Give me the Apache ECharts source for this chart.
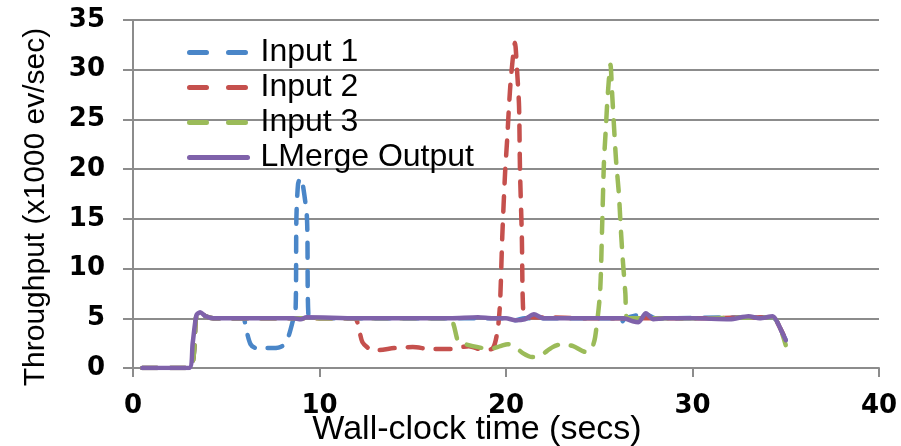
<!DOCTYPE html>
<html>
<head>
<meta charset="utf-8">
<script src="https://cdn.jsdelivr.net/npm/echarts@6/dist/echarts.min.js"></script>
<style>
  html, body { margin: 0; padding: 0; background: #fff; }
  #chart { width: 901px; height: 446px; }
</style>
</head>
<body>
<div id="chart"></div>
<script>
// values (x = secs, y = x1000 ev/sec)
const input1X = [0.5, 3.0, 3.4, 3.6, 3.9, 4.3, 5.9, 6.05, 6.3, 6.6, 7.5, 8.0, 8.3, 8.55, 8.72, 8.76, 8.85, 8.97, 9.1, 9.33, 9.4, 9.6, 12, 16, 20.0, 20.5, 21.0, 25.8, 26.1, 26.4, 27.5, 28.0, 33.0, 34.3, 34.7, 35.0];
const input1Y = [0, 0, 5.3, 5.6, 5.2, 5.0, 5.0, 4.0, 2.4, 2.0, 2.0, 2.2, 3.0, 4.6, 6.0, 15, 18.5, 19.1, 18.5, 15, 5.5, 5.0, 5.0, 5.0, 5.0, 4.8, 5.0, 5.0, 4.4, 5.0, 5.4, 5.0, 5.1, 5.1, 4.0, 2.8];

const input2X = [0.5, 3.0, 3.4, 3.6, 3.9, 4.3, 8, 11.9, 12.05, 12.3, 12.7, 13.1, 14.0, 15.0, 16.0, 17.0, 18.0, 18.8, 19.3, 19.55, 19.68, 19.8, 19.95, 20.06, 20.16, 20.27, 20.48, 20.6, 20.7, 20.75, 20.85, 20.9, 21.0, 21.3, 25, 30, 34.3, 34.7, 35.0];
const input2Y = [0, 0, 5.3, 5.6, 5.2, 5.0, 5.0, 5.0, 4.5, 2.6, 1.9, 1.8, 2.0, 2.1, 1.9, 1.9, 2.2, 1.8, 2.0, 3.8, 6.5, 13.2, 19.6, 22.9, 26.3, 29.3, 32.7, 29.7, 26.3, 19.9, 13.2, 6.8, 5.0, 5.1, 5.0, 5.0, 5.1, 4.0, 2.8];

const input3X = [0.5, 3.0, 3.4, 3.6, 3.9, 4.3, 10, 17.0, 17.2, 17.45, 17.8, 18.5, 19.1, 19.7, 20.1, 20.5, 20.9, 21.4, 21.8, 22.5, 23.0, 23.6, 24.3, 24.6, 24.78, 25.04, 25.15, 25.25, 25.35, 25.45, 25.6, 25.7, 25.8, 25.9, 26.05, 26.15, 26.25, 26.4, 26.5, 27, 30, 34.3, 34.7, 35.0];
const input3Y = [0, 0, 5.3, 5.6, 5.2, 5.0, 5.0, 5.0, 4.3, 2.6, 2.4, 2.1, 1.9, 2.2, 2.4, 2.1, 1.5, 1.1, 1.2, 2.1, 2.4, 2.2, 1.6, 2.0, 3.1, 7.5, 13.9, 20.6, 24.0, 27.3, 30.5, 27.3, 24.0, 20.9, 17.6, 14.2, 11.2, 7.5, 5.0, 5.0, 5.0, 5.1, 4.0, 2.3];

const outputX = [0.5, 3.0, 3.2, 3.4, 3.6, 3.9, 4.3, 6, 8.6, 9.0, 9.3, 12, 15, 17, 18.5, 19.3, 20.0, 20.5, 21.0, 21.5, 22.0, 25, 26.3, 26.8, 27.1, 27.5, 27.9, 28.5, 30, 32, 33.0, 33.6, 34.3, 34.55, 34.75, 35.0];
const outputY = [0, 0, 2.5, 5.3, 5.6, 5.2, 5.0, 5.0, 5.0, 4.9, 5.1, 5.0, 5.0, 5.0, 5.1, 5.0, 5.0, 4.8, 4.9, 5.4, 5.0, 5.0, 5.0, 4.7, 4.6, 5.5, 4.9, 5.0, 5.0, 4.9, 5.2, 5.0, 5.2, 4.6, 3.8, 2.8];

const seriesNames = ['Input 1', 'Input 2', 'Input 3', 'LMerge Output'];
const seriesColors = ['#4a86c8', '#c5504d', '#9bbb59', '#7f62aa'];

const pairs = (xs, ys) => xs.map((x, i) => [x, ys[i]]);
const allData = [pairs(input1X, input1Y), pairs(input2X, input2Y), pairs(input3X, input3Y), pairs(outputX, outputY)];

const labelFont = 'Liberation Sans, Arial, sans-serif';
const tickFont = 'DejaVu Sans, sans-serif';
const gray = '#8c8c8c';

const chart = echarts.init(document.getElementById('chart'));
chart.setOption({
  animation: false,
  grid: { left: 133, right: 22, top: 20, bottom: 78, outerBoundsMode: 'none' },
  legend: {
    data: seriesNames.map((name, i) => ({
      name: name,
      lineStyle: { width: 5, type: i < 3 ? [17, 22] : 'solid', cap: 'round' }
    })),
    orient: 'vertical',
    left: 182,
    top: 30,
    itemWidth: 58,
    itemHeight: 14,
    itemGap: 0,
    itemStyle: { opacity: 0 },
    textStyle: {
      color: '#000',
      fontFamily: labelFont,
      fontSize: 32,
      lineHeight: 35,
      padding: [0, 0, 0, 8]
    }
  },
  xAxis: {
    type: 'value',
    min: 0,
    max: 40,
    interval: 10,
    name: 'Wall-clock time (secs)',
    nameLocation: 'middle',
    nameGap: 45,
    nameMoveOverlap: false,
    nameTextStyle: {
      color: '#000',
      fontFamily: labelFont,
      fontSize: 34,
      padding: [0, 58, 0, 0]
    },
    axisLine: { show: true, lineStyle: { color: gray, width: 2 } },
    axisTick: { show: true, length: 9, lineStyle: { color: gray, width: 2 } },
    splitLine: { show: false },
    axisLabel: { color: '#000', fontFamily: tickFont, fontSize: 26, fontWeight: 'bold', margin: 25 }
  },
  yAxis: {
    type: 'value',
    min: 0,
    max: 35,
    interval: 5,
    name: 'Throughput (x1000 ev/sec)',
    nameLocation: 'middle',
    nameGap: 82,
    nameTextStyle: {
      color: '#000',
      fontFamily: labelFont,
      fontSize: 30,
      padding: [0, 26, 0, 0]
    },
    axisLine: { show: true, lineStyle: { color: gray, width: 2 } },
    axisTick: { show: true, length: 10, lineStyle: { color: gray, width: 2 } },
    splitLine: { show: true, lineStyle: { color: gray, width: 2 } },
    axisLabel: { color: '#000', fontFamily: tickFont, fontSize: 26, fontWeight: 'bold', margin: 28 }
  },
  series: seriesNames.map((name, i) => ({
    name: name,
    type: 'line',
    data: allData[i],
    smooth: 0.25,
    symbol: 'none',
    color: seriesColors[i],
    lineStyle: {
      color: seriesColors[i],
      width: 4.5,
      type: i < 3 ? [15, 13] : 'solid',
      cap: 'round',
      join: 'round'
    },
    z: i === 3 ? 5 : 2
  }))
});
</script>
</body>
</html>
